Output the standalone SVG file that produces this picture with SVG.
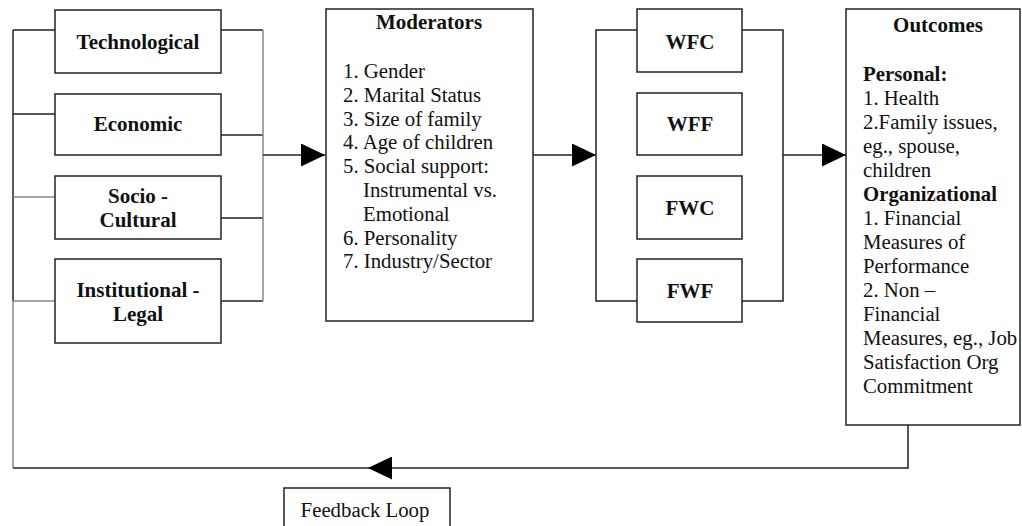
<svg xmlns="http://www.w3.org/2000/svg" width="1022" height="526" viewBox="0 0 1022 526">
  <defs>
    <marker id="arrow" markerUnits="userSpaceOnUse" markerWidth="24" markerHeight="23" refX="24" refY="11.5" orient="auto">
      <path d="M0,0 L24,11.5 L0,23 Z" fill="#000"/>
    </marker>
    <style>
      .box { fill: #fff; stroke: #222; stroke-width: 1.5; }
      .wire { fill: none; stroke: #222; stroke-width: 1.5; }
      .wire-g { fill: none; stroke: #888; stroke-width: 1.5; }
      .lbl { font-family: "Liberation Serif", "Times New Roman", serif; font-weight: bold; font-size: 21px; fill: #111; text-anchor: middle; }
      .txt { font-family: "Liberation Serif", "Times New Roman", serif; font-size: 20.8px; fill: #111; }
      .b { font-weight: bold; }
    </style>
  </defs>

  <!-- connectors -->
  <g id="connectors">
    <!-- left bus feeding the four factor boxes -->
    <path class="wire" d="M13,30 V301 M13,30 H55 M13,114 H55"/>
    <path class="wire-g" d="M13,197 H55 M13,301 H55 M13,301 V468"/>
    <!-- right bus collecting the factors -->
    <path class="wire" d="M221,30 H263 M221,135 H263 M221,218 H263 M221,301 H263"/>
    <path class="wire-g" d="M263,30 V301"/>
    <path class="wire" d="M263,155 H325" marker-end="url(#arrow)"/>
    <!-- moderators to conflict types -->
    <path class="wire" d="M533,155 H596" marker-end="url(#arrow)"/>
    <path class="wire" d="M637,30 H596 V301 H637 M742,30 H783 V301 H742"/>
    <path class="wire" d="M783,155 H846" marker-end="url(#arrow)"/>
    <!-- feedback loop -->
    <path class="wire" d="M908,425 V468 H368" marker-end="url(#arrow)"/>
    <path class="wire" d="M368,468 H13"/>
  </g>

  <g id="technological">
    <rect class="box" x="55" y="10" width="166" height="63"/>
    <text class="lbl" x="138" y="49">Technological</text>
  </g>
  <g id="economic">
    <rect class="box" x="55" y="94" width="166" height="61"/>
    <text class="lbl" x="138" y="131">Economic</text>
  </g>
  <g id="socio-cultural">
    <rect class="box" x="55" y="176" width="166" height="63"/>
    <text class="lbl" x="138" y="203">Socio -</text>
    <text class="lbl" x="138" y="227">Cultural</text>
  </g>
  <g id="institutional-legal">
    <rect class="box" x="55" y="259" width="166" height="84"/>
    <text class="lbl" x="138" y="297">Institutional -</text>
    <text class="lbl" x="138" y="321">Legal</text>
  </g>

  <g id="moderators">
    <rect class="box" x="326" y="9" width="207" height="312"/>
    <text class="lbl" x="429" y="29">Moderators</text>
    <text class="txt" x="343" y="78">1. Gender</text>
    <text class="txt" x="343" y="101.8">2. Marital Status</text>
    <text class="txt" x="343" y="125.6">3. Size of family</text>
    <text class="txt" x="343" y="149.4">4. Age of children</text>
    <text class="txt" x="343" y="173.2">5. Social support:</text>
    <text class="txt" x="363" y="197">Instrumental vs.</text>
    <text class="txt" x="363" y="220.8">Emotional</text>
    <text class="txt" x="343" y="244.6">6. Personality</text>
    <text class="txt" x="343" y="268.4">7. Industry/Sector</text>
  </g>

  <g id="wfc">
    <rect class="box" x="637" y="9" width="105" height="63"/>
    <text class="lbl" x="690" y="49">WFC</text>
  </g>
  <g id="wff">
    <rect class="box" x="637" y="93" width="105" height="62"/>
    <text class="lbl" x="690" y="131">WFF</text>
  </g>
  <g id="fwc">
    <rect class="box" x="637" y="176" width="105" height="63"/>
    <text class="lbl" x="690" y="215">FWC</text>
  </g>
  <g id="fwf">
    <rect class="box" x="637" y="259" width="105" height="63"/>
    <text class="lbl" x="690" y="298">FWF</text>
  </g>

  <g id="outcomes">
    <rect class="box" x="846" y="9" width="174" height="416"/>
    <text class="lbl" x="938" y="32">Outcomes</text>
    <text class="txt b" x="863" y="81">Personal:</text>
    <text class="txt" x="863" y="105">1. Health</text>
    <text class="txt" x="863" y="129">2.Family issues,</text>
    <text class="txt" x="863" y="153">eg., spouse,</text>
    <text class="txt" x="863" y="177">children</text>
    <text class="txt b" x="863" y="201">Organizational</text>
    <text class="txt" x="863" y="225">1. Financial</text>
    <text class="txt" x="863" y="249">Measures of</text>
    <text class="txt" x="863" y="273">Performance</text>
    <text class="txt" x="863" y="297">2. Non –</text>
    <text class="txt" x="863" y="321">Financial</text>
    <text class="txt" x="863" y="345">Measures, eg., Job</text>
    <text class="txt" x="863" y="369">Satisfaction Org</text>
    <text class="txt" x="863" y="393">Commitment</text>
  </g>

  <g id="feedback-loop">
    <rect class="box" x="284" y="488" width="166" height="50"/>
    <text class="txt" x="365" y="517" text-anchor="middle">Feedback Loop</text>
  </g>
</svg>
